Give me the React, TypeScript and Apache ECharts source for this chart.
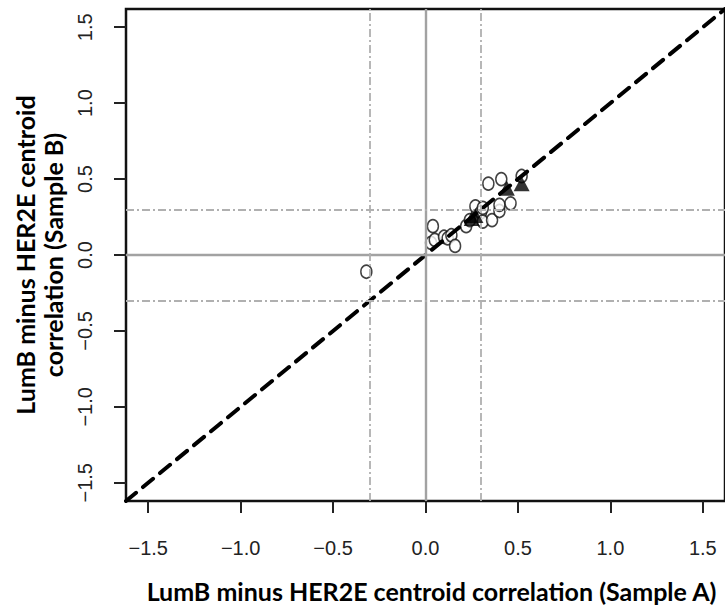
import React, { useEffect, useRef } from "react";
import * as echarts from "echarts";

// ---- data ----
const xTicks = [-1.5, -1.0, -0.5, 0, 0.5, 1.0, 1.5];
const yTicks = [-1.5, -1.0, -0.5, 0, 0.5, 1.0, 1.5];
const axisMin = -1.62;
const axisMax = 1.62;
const xTitle = "LumB minus HER2E centroid correlation (Sample A)";
const yTitle = "LumB minus HER2E centroid\ncorrelation (Sample B)";

// open circles (Sample A, Sample B)
const circlePoints: [number, number][] = [
  [-0.32, -0.11],
  [0.03, 0.08],
  [0.04, 0.19],
  [0.05, 0.1],
  [0.1, 0.12],
  [0.12, 0.11],
  [0.14, 0.13],
  [0.16, 0.06],
  [0.22, 0.19],
  [0.24, 0.23],
  [0.27, 0.32],
  [0.3, 0.28],
  [0.31, 0.22],
  [0.31, 0.31],
  [0.36, 0.23],
  [0.34, 0.47],
  [0.4, 0.29],
  [0.4, 0.33],
  [0.46, 0.34],
  [0.41, 0.5],
  [0.52, 0.52],
];
// filled triangles
const trianglePoints: [number, number][] = [
  [0.25, 0.24],
  [0.27, 0.26],
  [0.44, 0.44],
  [0.52, 0.47],
];
const solidRefs = [0];
const dashRefs = [-0.3, 0.3];
const diagonal: [number, number][] = [
  [axisMin, axisMin],
  [axisMax, axisMax],
];

const fmt = (v: number) =>
  (v < 0 ? "\u2212" : "") + Math.abs(v).toFixed(1);

export default function App() {
  const ref = useRef<HTMLDivElement>(null);
  useEffect(() => {
    if (!ref.current) return;
    const chart = echarts.init(ref.current, null, { renderer: "svg" });
    const tickFont = {
      fontFamily: "Liberation Sans, Arial, sans-serif",
      fontSize: 20,
      color: "#222",
    };
    const titleFont = {
      fontFamily: "Lato, 'Open Sans', sans-serif",
      fontSize: 25,
      fontWeight: "bold" as const,
      color: "#000",
      lineHeight: 28,
    };
    chart.setOption({
      animation: false,
      backgroundColor: "#fff",
      grid: {
        left: 126,
        top: 9,
        width: 601,
        height: 493,
        show: true,
        borderColor: "#111",
        borderWidth: 2.5,
        backgroundColor: "transparent",
      },
      xAxis: {
        type: "value",
        min: axisMin,
        max: axisMax,
        position: "bottom",
        axisLine: { show: false, onZero: false },
        splitLine: { show: false },
        axisTick: {
          show: true,
          length: 12,
          customValues: xTicks,
          lineStyle: { color: "#222", width: 2 },
        },
        axisLabel: {
          ...tickFont,
          margin: 37,
          customValues: xTicks,
          formatter: fmt,
        },
        name: xTitle,
        nameLocation: "middle",
        nameGap: 76,
        nameTextStyle: { ...titleFont, padding: [0, 0, 0, 12] },
      },
      yAxis: {
        type: "value",
        min: axisMin,
        max: axisMax,
        position: "left",
        axisLine: { show: false, onZero: false },
        splitLine: { show: false },
        axisTick: {
          show: true,
          length: 12,
          customValues: yTicks,
          lineStyle: { color: "#222", width: 2 },
        },
        axisLabel: {
          ...tickFont,
          rotate: 90,
          margin: 31,
          customValues: yTicks,
          formatter: fmt,
        },
        name: yTitle,
        nameLocation: "middle",
        nameRotate: 90,
        nameGap: 55,
        nameTextStyle: titleFont,
      },
      series: [
        {
          type: "line",
          data: [],
          silent: true,
          markLine: {
            silent: true,
            symbol: "none",
            label: { show: false },
            data: [
              ...solidRefs.map((v) => ({
                xAxis: v,
                lineStyle: { color: "#a2a2a2", width: 2.4, type: "solid" },
              })),
              ...solidRefs.map((v) => ({
                yAxis: v,
                lineStyle: { color: "#a2a2a2", width: 2.4, type: "solid" },
              })),
              ...dashRefs.map((v) => ({
                xAxis: v,
                lineStyle: { color: "#b0b0b0", width: 1.8, type: [8, 3, 2, 3] },
              })),
              ...dashRefs.map((v) => ({
                yAxis: v,
                lineStyle: { color: "#b0b0b0", width: 1.8, type: [8, 3, 2, 3] },
              })),
            ],
          },
        },
        {
          type: "scatter",
          data: circlePoints,
          symbol: "circle",
          symbolSize: [11, 13],
          itemStyle: { color: "#fff", borderColor: "#111", borderWidth: 1.6 },
          z: 3,
        },
        {
          type: "line",
          data: diagonal,
          showSymbol: false,
          clip: true,
          lineStyle: { color: "#000", width: 4, type: [13, 9], cap: "round" },
          z: 4,
        },
        {
          type: "scatter",
          data: trianglePoints,
          symbol: "triangle",
          symbolSize: [16, 15],
          itemStyle: { color: "#000" },
          z: 5,
        },
      ],
    });
    return () => chart.dispose();
  }, []);
  return (
    <div
      ref={ref}
      style={{ position: "absolute", left: 0, top: 0, width: 725, height: 610 }}
    />
  );
}
